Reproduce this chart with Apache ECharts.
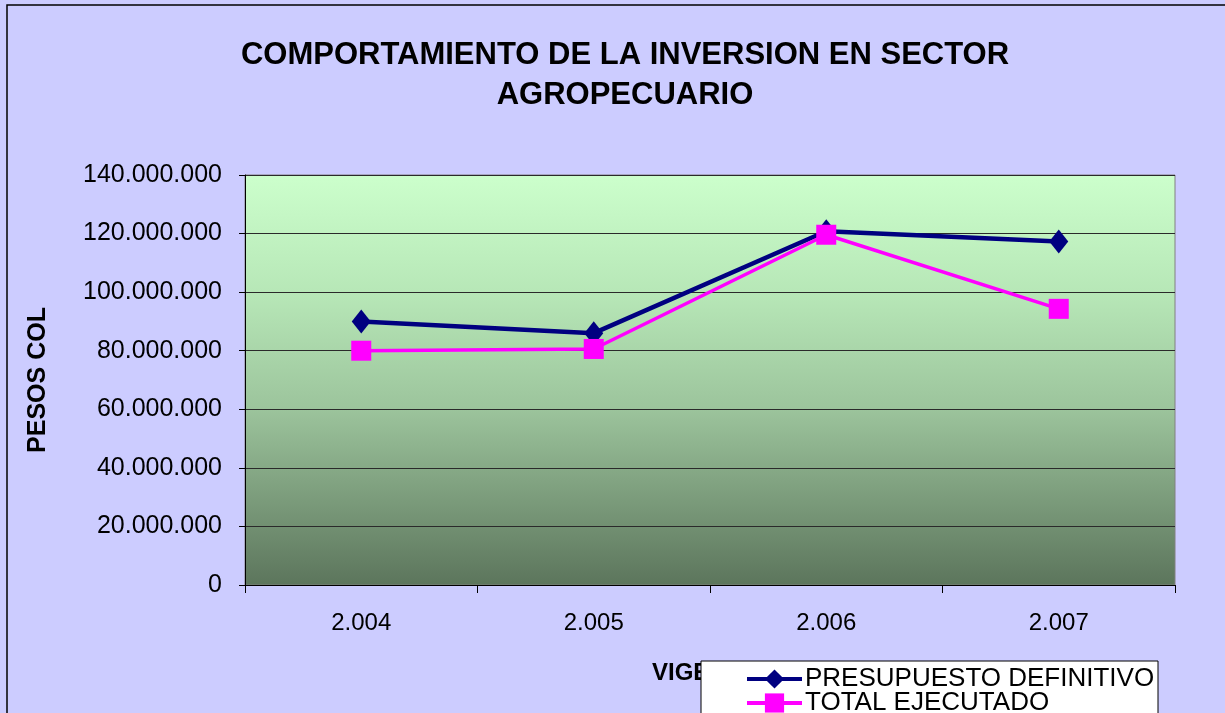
<!DOCTYPE html>
<html>
<head>
<meta charset="utf-8">
<script src="https://cdn.jsdelivr.net/npm/echarts@6/dist/echarts.min.js"></script>
<style>
  html, body { margin: 0; padding: 0; background: #ccccff; }
  #chart { width: 1225px; height: 713px; }
</style>
</head>
<body>
<div id="chart"></div>
<script>
// datos
const vigencias = ['2.004', '2.005', '2.006', '2.007']
const presupuestoDefinitivo = [90000000, 86000000, 120800000, 117300000]
const totalEjecutado = [80000000, 80600000, 119600000, 94300000]
const nombresSeries = ['PRESUPUESTO DEFINITIVO', 'TOTAL EJECUTADO']

const myChart = echarts.init(document.getElementById('chart'))

// 140000000 -> 140.000.000
const formatoPesos = (v) => String(v).replace(/\B(?=(\d{3})+(?!\d))/g, '.')

// una leyenda por serie, asi no se parte en columnas al final del lienzo
const leyenda = (nombre, top) => ({
  data: [{ name: nombre, lineStyle: { width: 4 } }],
  orient: 'vertical',
  left: 745,
  top: top,
  itemWidth: 55,
  itemHeight: 24,
  padding: 0,
  z: 60,
  textStyle: {
    fontFamily: 'Liberation Sans, Arial',
    fontSize: 26,
    lineHeight: 24,
    color: '#000',
    padding: [0, 0, 0, -2]
  }
})

const option = {
  backgroundColor: '#ccccff',
  animation: false,
  title: {
    text: 'COMPORTAMIENTO DE LA INVERSION EN SECTOR\nAGROPECUARIO',
    left: 620,
    textAlign: 'center',
    top: 30,
    textStyle: {
      fontFamily: 'Liberation Sans, Arial',
      fontSize: 31,
      fontWeight: 'bold',
      color: '#000',
      lineHeight: 40
    }
  },
  graphic: [
    // borde exterior del grafico
    {
      type: 'rect',
      shape: { x: 7, y: 5, width: 1400, height: 900 },
      style: { fill: 'none', stroke: '#000', lineWidth: 1.5 },
      z: 0
    },
    // caja de la leyenda (tapa parte de VIGENCIA como en el original)
    {
      type: 'rect',
      shape: { x: 701, y: 661, width: 457, height: 80 },
      style: { fill: '#fff', stroke: '#000', lineWidth: 1 },
      z: 50
    }
  ],
  legend: [
    leyenda(nombresSeries[0], 666),
    leyenda(nombresSeries[1], 690)
  ],
  grid: {
    left: 245,
    right: 50,
    top: 175,
    bottom: 128,
    show: true,
    borderColor: '#808080',
    borderWidth: 1,
    backgroundColor: new echarts.graphic.LinearGradient(0, 0, 0, 1, [
      { offset: 0, color: '#ccffcc' },
      { offset: 0.3, color: '#b6e6b6' },
      { offset: 0.57, color: '#9cc49c' },
      { offset: 1, color: '#5c755c' }
    ])
  },
  xAxis: {
    type: 'category',
    data: vigencias,
    boundaryGap: true,
    name: 'VIGENCIA',
    nameLocation: 'middle',
    nameGap: 76,
    nameTextStyle: {
      fontFamily: 'Liberation Sans, Arial',
      fontSize: 24,
      fontWeight: 'bold',
      color: '#000'
    },
    axisLine: { lineStyle: { color: '#000', width: 1 } },
    axisTick: { show: true, length: 8, inside: false, lineStyle: { color: '#000' } },
    axisLabel: {
      fontFamily: 'Liberation Sans, Arial',
      fontSize: 24,
      color: '#000',
      margin: 26
    },
    splitLine: { show: false }
  },
  yAxis: {
    type: 'value',
    min: 0,
    max: 140000000,
    interval: 20000000,
    name: 'PESOS COL',
    nameLocation: 'middle',
    nameRotate: 90,
    nameGap: 194,
    nameTextStyle: {
      fontFamily: 'Liberation Sans, Arial',
      fontSize: 25,
      fontWeight: 'bold',
      color: '#000'
    },
    axisLine: { show: true, lineStyle: { color: '#000', width: 1 } },
    axisTick: { show: true, length: 6, lineStyle: { color: '#000' } },
    axisLabel: {
      fontFamily: 'Liberation Sans, Arial',
      fontSize: 25,
      color: '#000',
      margin: 23,
      formatter: formatoPesos
    },
    splitLine: { show: true, lineStyle: { color: '#2a2a2a', width: 1 } }
  },
  series: [
    {
      name: nombresSeries[0],
      type: 'line',
      data: presupuestoDefinitivo,
      symbol: 'diamond',
      symbolSize: [19, 24],
      lineStyle: { color: '#000080', width: 4.5 },
      itemStyle: { color: '#000080' },
      z: 3
    },
    {
      name: nombresSeries[1],
      type: 'line',
      data: totalEjecutado,
      symbol: 'rect',
      symbolSize: [20, 20],
      lineStyle: { color: '#ff00ff', width: 3.5 },
      itemStyle: { color: '#ff00ff' },
      z: 4
    }
  ]
}

myChart.setOption(option)
</script>
</body>
</html>
